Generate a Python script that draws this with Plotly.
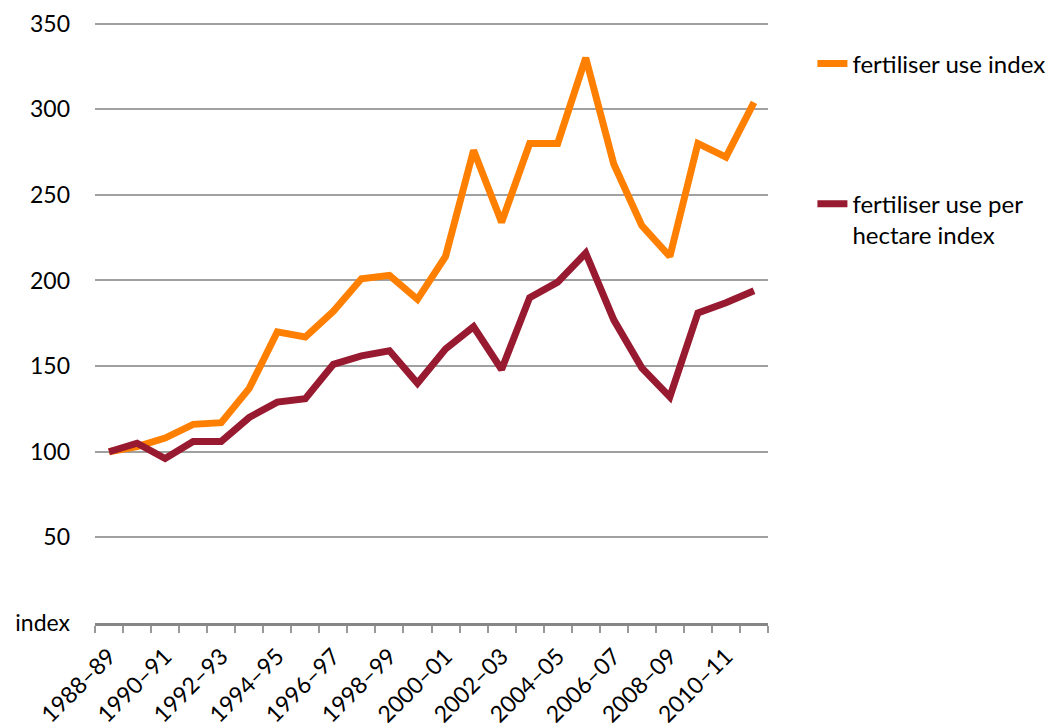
import plotly.graph_objects as go

years = ["1988–89", "1989–90", "1990–91", "1991–92", "1992–93", "1993–94", "1994–95",
         "1995–96", "1996–97", "1997–98", "1998–99", "1999–00", "2000–01", "2001–02",
         "2002–03", "2003–04", "2004–05", "2005–06", "2006–07", "2007–08", "2008–09",
         "2009–10", "2010–11", "2011–12"]
fert_use = [100, 103, 108, 116, 117, 137, 170, 167, 182, 201, 203, 189, 214, 276,
            234, 280, 280, 330, 268, 232, 214, 280, 272, 304]
fert_per_ha = [100, 105, 96, 106, 106, 120, 129, 131, 151, 156, 159, 140, 160, 173,
               148, 190, 199, 216, 177, 149, 132, 181, 187, 194]
series_names = ["fertiliser use index", "fertiliser use per<br>hectare index"]
y_ticks = [0, 50, 100, 150, 200, 250, 300, 350]
y_ticktext = ["index", "50", "100", "150", "200", "250", "300", "350"]

x = list(range(len(years)))
FONT = "Lato"
FS = 23

fig = go.Figure()
fig.add_trace(go.Scatter(x=x, y=fert_use, mode="lines", name=series_names[0],
                         line=dict(color="#FF7F00", width=7), legendgroup="a"))
fig.add_trace(go.Scatter(x=x, y=fert_per_ha, mode="lines", name=series_names[1],
                         line=dict(color="#981A30", width=7), legendgroup="b"))

fig.update_layout(
    width=1056, height=727,
    margin=dict(l=87, r=296, t=13, b=112),
    paper_bgcolor="white", plot_bgcolor="white",
    font=dict(family=FONT, size=FS, color="black"),
    showlegend=True,
    legend=dict(x=1.066, y=0.966, xanchor="left", yanchor="top",
                tracegroupgap=106, valign="top",
                font=dict(family=FONT, size=24, color="black"),
                bgcolor="rgba(0,0,0,0)"),
)
fig.update_xaxes(
    range=[-0.5, len(years) - 0.5], automargin=False,
    tickmode="array", tickvals=x[::2], ticktext=years[::2],
    tickangle=-45, ticks="", showgrid=False, zeroline=False,
    showline=True, linecolor="#868686", linewidth=2.5,
    ticklabelstandoff=8, ticklabeloverflow="allow",
    tickfont=dict(family=FONT, size=FS, color="black"),
    minor=dict(tickmode="linear", tick0=-0.5, dtick=1, ticks="outside",
               ticklen=7, tickwidth=1.5, tickcolor="#999999", showgrid=False),
    fixedrange=True,
)
fig.update_yaxes(
    range=[0, 351.5], automargin=False,
    tickmode="array", tickvals=y_ticks, ticktext=y_ticktext,
    showgrid=True, gridcolor="#A0A0A0", gridwidth=1.5, zeroline=False,
    showline=False, ticks="", ticklabelstandoff=24, ticklabeloverflow="allow",
    tickfont=dict(family=FONT, size=FS, color="black"),
    fixedrange=True,
)

fig.write_html("out.html")
